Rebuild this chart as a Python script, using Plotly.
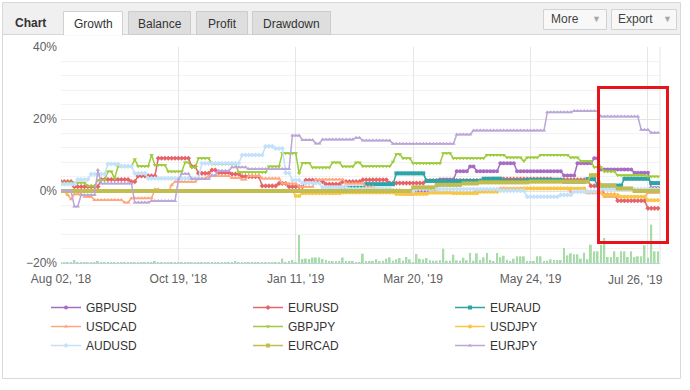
import plotly.graph_objects as go

# ---------------- data ----------------
N_POINTS = 179  # trading-day points on the ordinal x axis
TICK_POS = [0, 35, 70, 105, 140, 175]
TICK_LABELS = ["Aug 02, '18", "Oct 19, '18", "Jan 11, '19", "Mar 20, '19", "May 24, '19", "Jul 26, '19"]

SERIES = ["GBPUSD", "EURUSD", "EURAUD", "USDCAD", "GBPJPY", "USDJPY", "AUDUSD", "EURCAD", "EURJPY"]

# growth (%) per series: value holds from index in *_at until the next index
GBPUSD_at = [0, 110, 113, 118, 122, 124, 131, 136, 150, 154, 159, 161, 171, 176]
GBPUSD_pct = [0, 0.5, 3.2, 5.5, 6.8, 5.5, 7.7, 5.5, 4.3, 7.7, 9.1, 6.0, 5.1, 0.8]

EURUSD_at = [0, 4, 12, 21, 23, 29, 39, 41, 45, 47, 51, 54, 60, 65, 68, 73, 77, 79, 84, 90,
             98, 109, 129, 147, 158, 162, 166, 175]
EURUSD_pct = [2.6, 1.2, 3.2, 2.6, 4.2, 9.1, 6.8, 4.9, 5.8, 5.1, 4.7, 4.0, 1.4, 2.1, 1.2, 3.0,
              2.6, 1.9, 2.6, 3.1, 2.2, 2.9, 3.3, 3.1, 1.4, -1.1, -2.7, -4.8]

EURAUD_at = [0, 84, 91, 100, 109, 126, 132, 139, 150, 157, 160, 168, 176]
EURAUD_pct = [0, 0.9, 1.9, 4.9, 2.8, 3.4, 2.8, 3.1, 2.6, 3.3, 1.5, 3.4, 2.2]

USDCAD_at = [0, 2, 3, 4, 7, 10, 19, 21, 28, 30, 33, 34, 41, 44, 51, 54, 56, 60, 66, 71, 76,
             85, 91, 94, 102, 106, 124, 131, 152, 157, 162, 175]
USDCAD_pct = [-0.2, -1.1, -2.3, -0.9, -1.6, -2.5, -3.2, -2.0, 0.5, -0.2, 1.7, 2.6, 3.5, 4.2,
              3.6, 3.2, 4.2, 3.5, 2.1, 1.2, 3.2, 2.1, 1.2, 0.3, -1.0, -0.5, 0.3, 0.75, -0.2,
              -0.6, -1.6, -0.5]

GBPJPY_at = [0, 8, 11, 14, 16, 17, 22, 23, 27, 28, 32, 37, 39, 41, 45, 53, 62, 66, 71, 72,
             75, 81, 84, 88, 90, 99, 100, 102, 105, 114, 117, 127, 133, 138, 139, 143, 152,
             155, 159, 162, 166, 175]
GBPJPY_pct = [2.3, 1.4, 3.0, 5.4, 3.5, 6.8, 8.8, 6.9, 10.0, 7.2, 5.4, 7.9, 6.5, 9.1, 7.5,
              5.2, 6.8, 10.5, 4.9, 7.8, 6.5, 7.9, 6.8, 7.9, 6.9, 8.1, 10.2, 9.1, 7.7, 10.5,
              9.1, 10.0, 9.3, 8.3, 9.3, 10.0, 9.3, 8.3, 6.6, 5.4, 4.4, 4.0]

USDJPY_at = [0, 70, 72, 84, 100, 110, 117, 125, 131, 138, 157, 162, 167, 175]
USDJPY_pct = [0, -1.4, -0.6, -0.4, -0.8, -0.5, -0.6, -0.2, 0.4, 0.7, -0.2, -1.1, -1.6, -2.6]

AUDUSD_at = [0, 5, 9, 14, 18, 22, 26, 42, 54, 61, 64, 67, 69, 72, 78, 86, 99, 106, 131, 139,
             149, 153, 161]
AUDUSD_pct = [1.9, 3.2, 4.7, 7.5, 6.9, 4.9, 3.5, 7.7, 10.0, 12.4, 11.8, 5.0, 3.0, 2.2, 1.0,
              0.6, 0.0, 0.5, 0.1, -1.6, -1.1, -0.2, 0.5]

EURCAD_at = [0, 105, 112, 120, 125, 140, 158, 161, 166, 171]
EURCAD_pct = [0, 1.0, 1.7, 2.1, 2.4, 2.6, 4.4, 1.5, 0.7, 0.0]

EURJPY_at = [0, 4, 6, 11, 12, 22, 27, 35, 36, 39, 45, 47, 51, 56, 69, 72, 76, 78, 88, 90,
             99, 118, 123, 145, 153, 161, 173, 176]
EURJPY_pct = [0, -4.3, -1.1, 5.8, 2.1, -3.2, -2.8, 3.2, 4.8, 3.3, 4.4, 5.6, 6.6, 6.1, 15.4,
              14.2, 13.2, 14.3, 14.8, 14.0, 13.1, 15.7, 16.8, 21.9, 22.2, 20.7, 17.0, 16.2]

# traded volume bars (one per point)
VOLUME = (
    [0.1, 0.1, 0.1, 0.1, 0.3, 0.1, 0.1, 0.1, 0.1, 0.1, 0.1, 0.2, 0.1, 0.1, 0.1, 0.1, 0.1, 0.1,
     0.1, 0.1, 0.1, 0.1, 0.1, 0.1, 0.1, 0.1, 0.1, 0.1, 0.2, 0.1, 0.1, 0.1, 0.1, 0.1, 0.1, 0.1,
     0.1, 0.1, 0.1, 0.1, 0.1, 0.1, 0.1, 0.1, 0.1, 0.1, 0.1, 0.1, 0.1, 0.1, 0.1, 0.1, 0.2, 0.1,
     0.1, 0.1, 0.1, 0.1, 0.1, 0.1, 0.1, 0.1, 0.1, 0.1, 0.1, 0.1]
    + [0.45, 0.1, 0.15, 0.3, 0.1, 2.8, 0.4, 0.45, 0.4, 0.55, 0.55, 0.55, 0.4, 0.3, 0.15, 0.15,
       0.15, 0.15, 0.55, 0.2, 0.2, 0.2, 0.1, 0.1]
    + [0.93, 0.17, 0.17, 0.17, 0.37, 0.17, 0.23, 0.43, 0.57, 0.23, 0.37, 0.5, 0.23, 0.6, 0.37,
       0.1, 0.9, 0.43, 0.37, 0.5, 0.27, 0.23, 0.23, 0.27, 1.43, 0.23, 0.23, 0.83, 0.27, 0.23,
       0.53, 0.27, 1.0, 0.23, 0.97, 0.3, 0.57, 1.0, 0.3, 0.2, 1.0, 0.57, 0.73, 0.33, 0.2, 0.43,
       0.67, 0.67, 0.67, 0.2, 0.2, 0.2, 0.67, 0.67, 0.2, 0.23, 0.37, 0.3, 0.3, 0.3, 1.5, 0.77,
       0.97, 0.87, 0.87, 0.43, 1.03, 0.37, 1.83, 1.17, 1.17, 1.83, 2.5, 0.6, 0.6, 1.17, 0.6,
       1.17, 1.17, 0.6, 1.17, 0.6, 0.67, 0.67, 1.77, 0.53, 3.83, 1.17, 1.17]
)

STEPS = {
    "GBPUSD": (GBPUSD_at, GBPUSD_pct), "EURUSD": (EURUSD_at, EURUSD_pct),
    "EURAUD": (EURAUD_at, EURAUD_pct), "USDCAD": (USDCAD_at, USDCAD_pct),
    "GBPJPY": (GBPJPY_at, GBPJPY_pct), "USDJPY": (USDJPY_at, USDJPY_pct),
    "AUDUSD": (AUDUSD_at, AUDUSD_pct), "EURCAD": (EURCAD_at, EURCAD_pct),
    "EURJPY": (EURJPY_at, EURJPY_pct),
}

# ---------------- styles ----------------
COLORS = {
    "GBPUSD": "#a56cc1", "EURUSD": "#e5646a", "EURAUD": "#2fa4a6",
    "USDCAD": "#ffa67c", "GBPJPY": "#9dcc3a", "USDJPY": "#f8c643",
    "AUDUSD": "#c3e1fa", "EURCAD": "#c2bd4f", "EURJPY": "#bba6d8",
}
SYMBOLS = {
    "GBPUSD": "circle", "EURUSD": "diamond", "EURAUD": "square", "USDCAD": "triangle-up",
    "GBPJPY": "triangle-down", "USDJPY": "circle", "AUDUSD": "diamond", "EURCAD": "square",
    "EURJPY": "triangle-up",
}


def expand(at, pct, n):
    out, j = [], 0
    for i in range(n):
        while j + 1 < len(at) and at[j + 1] <= i:
            j += 1
        out.append(pct[j])
    return out


xs = list(range(N_POINTS))
fig = go.Figure()
fig.add_trace(go.Bar(x=xs, y=VOLUME, yaxis="y2", marker=dict(color="#a7dca7", line=dict(width=0)),
                     width=0.55, showlegend=False, hoverinfo="skip"))
for name in SERIES:
    at, pct = STEPS[name]
    fig.add_trace(go.Scatter(
        x=xs, y=expand(at, pct, N_POINTS), name=name, mode="lines+markers",
        line=dict(color=COLORS[name], width=1.5),
        marker=dict(symbol=SYMBOLS[name], size=4, color=COLORS[name]),
    ))

# pixel helpers (plot area 61..660 x 47..263)
PL, PR, PT, PB = 61, 660, 47, 263


def fx(px):
    return (px - PL) / (PR - PL)


def fy(py):
    return (PB - py) / (PB - PT)


FONT = "Liberation Sans, Arial, sans-serif"
shapes = []
annos = []


def rect(x0, y0, x1, y1, fill, line, width=1, layer="below"):
    shapes.append(dict(type="rect", xref="paper", yref="paper", x0=fx(x0), x1=fx(x1),
                       y0=fy(y0), y1=fy(y1), fillcolor=fill,
                       line=dict(color=line, width=width), layer=layer))


def text(px, py, s, size=12, color="#333", bold=False, anchor="center"):
    annos.append(dict(xref="paper", yref="paper", x=fx(px), y=fy(py), text=f"<b>{s}</b>" if bold else s,
                      showarrow=False, xanchor=anchor, yanchor="middle",
                      font=dict(family=FONT, size=size, color=color)))


# container + header
rect(2.5, 2.5, 680.5, 378.5, "rgba(0,0,0,0)", "#d9d9d9")
rect(3, 3, 680, 34.5, "#f0f0f0", "rgba(0,0,0,0)", 0)
shapes.append(dict(type="line", xref="paper", yref="paper", x0=fx(2.5), x1=fx(680.5), y0=fy(34.5),
                   y1=fy(34.5), line=dict(color="#d6d6d6", width=1), layer="below"))
rect(63.5, 11.5, 122.5, 35, "#ffffff", "#d0d0d0")
shapes.append(dict(type="line", xref="paper", yref="paper", x0=fx(64.2), x1=fx(121.8), y0=fy(34.8),
                   y1=fy(34.8), line=dict(color="#ffffff", width=2), layer="below"))
for x0, x1 in [(128.5, 190.5), (196.5, 247.5), (252.5, 330.5)]:
    rect(x0, 11.5, x1, 34.5, "#dedede", "#cccccc")
rect(543.5, 9.5, 606.5, 29.5, "#f8f8f8", "#d2d2d2")
rect(611.5, 9.5, 676.5, 29.5, "#f8f8f8", "#d2d2d2")

text(30, 23, "Chart", size=12, color="#333", bold=True)
text(93, 24, "Growth")
text(159.5, 24, "Balance")
text(222, 24, "Profit")
text(291.5, 24, "Drawdown")
text(565, 19.5, "More", color="#444")
text(596, 19.5, "▼", size=9, color="#a8a8a8")
text(635, 19.5, "Export", color="#444")
text(667, 19.5, "▼", size=9, color="#a8a8a8")

# plot right border and last x label (justified inside the chart)
shapes.append(dict(type="line", xref="paper", yref="paper", x0=1, x1=1, y0=0, y1=1,
                   line=dict(color="#e6e6e6", width=1), layer="below"))
annos.append(dict(xref="paper", yref="paper", x=fx(635), y=fy(280), text=TICK_LABELS[-1],
                  showarrow=False, xanchor="center", yanchor="middle",
                  font=dict(family=FONT, size=12, color="#606060")))

# highlight box
shapes.append(dict(type="rect", xref="paper", yref="paper", x0=fx(598.5), x1=fx(667.5),
                   y0=fy(242.5), y1=fy(87.5), line=dict(color="#e8141b", width=3),
                   fillcolor="rgba(0,0,0,0)", layer="above"))

fig.update_layout(
    width=690, height=390,
    margin=dict(l=PL, r=690 - PR, t=PT, b=390 - PB, pad=0),
    paper_bgcolor="white", plot_bgcolor="white",
    showlegend=True,
    xaxis=dict(range=[0, 178.6], tickmode="array", tickvals=TICK_POS,
               ticktext=TICK_LABELS[:-1] + [""], showgrid=True, gridcolor="#e6e6e6",
               gridwidth=1, zeroline=False, showline=True, linecolor="#c0d0e0", linewidth=1,
               ticks="", ticklabelstandoff=5,
               tickfont=dict(family=FONT, size=12, color="#606060"), fixedrange=True),
    yaxis=dict(range=[-20, 40], tickmode="linear", tick0=-20, dtick=20, ticksuffix="%",
               showgrid=True, gridcolor="#e3e3e3", zeroline=False, showline=False, ticks="",
               ticklabelstandoff=3,
               minor=dict(tick0=-20, dtick=4, showgrid=True, gridcolor="#f3f3f3"),
               tickfont=dict(family=FONT, size=12, color="#606060"), fixedrange=True),
    yaxis2=dict(overlaying="y", range=[0, 21.6], visible=False, fixedrange=True),
    legend=dict(orientation="h", x=fx(46), xanchor="left", y=fy(293), yanchor="top",
                entrywidth=157, entrywidthmode="pixels", traceorder="normal",
                font=dict(family="Liberation Sans, Arial", size=12, color="#333"),
                bgcolor="rgba(0,0,0,0)", borderwidth=0),
    shapes=shapes,
    annotations=annos,
    hovermode=False,
)

fig.write_html("out.html", config={"displayModeBar": False},
               post_script="document.body.style.margin='0';")
